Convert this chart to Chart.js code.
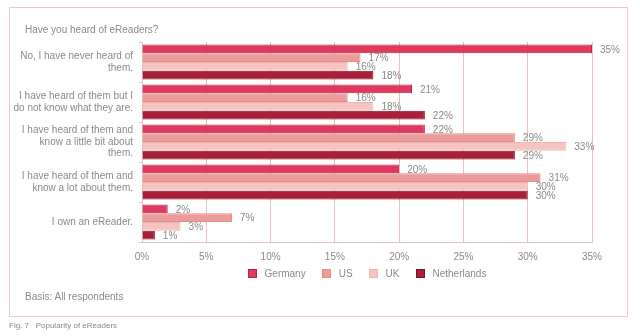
<!DOCTYPE html>
<html>
<head>
<meta charset="utf-8">
<script src="https://cdn.jsdelivr.net/npm/chart.js@4"></script>
<style>
  body { margin: 0; background: #fff; font-family: "Liberation Sans", Arial, sans-serif; }
  #wrap { position: relative; width: 640px; height: 336px; }
  #frame { position: absolute; left: 9px; top: 7px; width: 617px; height: 308px; border: 1px solid #efc6cb; }
  #chart { position: absolute; left: 0; top: 0; }
  .txt { position: absolute; color: #8c8a88; font-size: 10px; white-space: nowrap; }
  #legend { position: absolute; left: 142px; width: 450px; top: 268px; display: flex; justify-content: center; gap: 16px; }
  #legend .item { display: flex; align-items: center; color: #8c8a88; font-size: 10px; }
  #legend .box { width: 7px; height: 7px; border: 1px solid; margin-right: 8px; }
</style>
</head>
<body>
<div id="wrap">
  <div id="frame"></div>
  <canvas id="chart" width="640" height="336"></canvas>
  <div class="txt" style="left:25px; top:24px;">Have you heard of eReaders?</div>
  <div id="legend"></div>
  <div class="txt" style="left:25px; top:291px;">Basis: All respondents</div>
  <div class="txt" style="left:9px; top:321px; font-size:8px;">Fig. 7&nbsp;&nbsp;&nbsp;Popularity of eReaders</div>
</div>
<script>
var answers = [
  ["No, I have never heard of", "them."],
  ["I have heard of them but I", "do not know what they are."],
  ["I have heard of them and", "know a little bit about", "them."],
  ["I have heard of them and", "know a lot about them."],
  "I own an eReader."
];
var germany = [35, 21, 22, 20, 2];
var us = [17, 16, 29, 31, 7];
var uk = [16, 18, 33, 30, 3];
var netherlands = [18, 22, 29, 30, 1];
var xTicks = [0, 5, 10, 15, 20, 25, 30, 35];

var grey = '#8c8a88';
var fontFamily = '"Liberation Sans", Arial, sans-serif';

function series(label, data, fill, border) {
  return {
    label: label,
    data: data,
    backgroundColor: fill,
    borderColor: border,
    borderWidth: 1,
    categoryPercentage: 0.87,
    barPercentage: 1.0
  };
}

// value labels at the end of each bar
var valueLabels = {
  id: 'valueLabels',
  afterDatasetsDraw: function(chart) {
    var ctx = chart.ctx;
    ctx.save();
    ctx.font = '10px ' + fontFamily;
    ctx.fillStyle = grey;
    ctx.textBaseline = 'middle';
    chart.data.datasets.forEach(function(ds, i) {
      chart.getDatasetMeta(i).data.forEach(function(bar, j) {
        ctx.fillText(ds.data[j] + '%', bar.x + 8, bar.y + 1);
      });
    });
    ctx.restore();
  }
};

var ctx = document.getElementById('chart').getContext('2d');
var myChart = new Chart(ctx, {
  type: 'bar',
  data: {
    labels: answers,
    datasets: [
      series('Germany', germany, '#e0395f', '#c41c42'),
      series('US', us, '#ec9b9b', '#e48b8b'),
      series('UK', uk, '#f5c4c1', '#f0b6b3'),
      series('Netherlands', netherlands, '#a81f37', '#7c0f22')
    ]
  },
  options: {
    indexAxis: 'y',
    responsive: false,
    animation: false,
    layout: { padding: { top: 42, right: 48, bottom: 72, left: 0 } },
    scales: {
      x: {
        min: 0,
        max: 35,
        afterBuildTicks: function(s) { s.ticks = xTicks.map(function(v) { return { value: v }; }); },
        afterFit: function(s) { s.height = 22; },
        grid: { color: '#e8bfc2', drawTicks: false },
        border: { color: '#dcc4c6' },
        ticks: {
          padding: 9,
          color: grey,
          font: { size: 10, family: fontFamily },
          callback: function(v) { return v + '%'; }
        }
      },
      y: {
        afterFit: function(s) { s.width = 142; },
        grid: { display: true, drawOnChartArea: false, tickLength: 3, offset: true, color: '#d9c8c8' },
        border: { color: '#dcc4c6' },
        ticks: {
          autoSkip: false,
          padding: 6,
          color: grey,
          font: { size: 10, family: fontFamily, lineHeight: 1.17 }
        }
      }
    },
    plugins: {
      legend: { display: false },
      tooltip: { enabled: false }
    }
  },
  plugins: [valueLabels]
});

// legend built from the datasets
var legend = document.getElementById('legend');
myChart.data.datasets.forEach(function(ds) {
  var item = document.createElement('div');
  item.className = 'item';
  var box = document.createElement('span');
  box.className = 'box';
  box.style.background = ds.backgroundColor;
  box.style.borderColor = ds.borderColor;
  item.appendChild(box);
  item.appendChild(document.createTextNode(ds.label));
  legend.appendChild(item);
});
</script>
</body>
</html>
